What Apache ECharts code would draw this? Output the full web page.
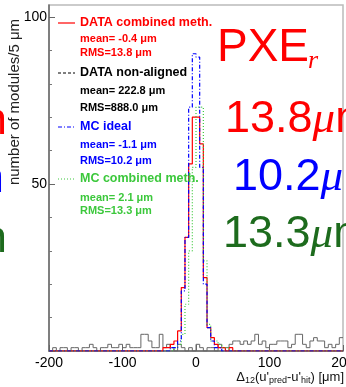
<!DOCTYPE html>
<html>
<head>
<meta charset="utf-8">
<script src="https://cdn.jsdelivr.net/npm/echarts@6/dist/echarts.min.js"></script>
<style>
  html, body { margin: 0; padding: 0; background: #fff; }
  #chart { width: 346px; height: 387px; }
</style>
</head>
<body>
<div id="chart"></div>
<script>
// Residual histograms, 5 um bins from -200 to 200 um
const binStart = -200;
const binWidth = 5;
const xTicks = [-200, -100, 0, 100, 200];
const yTickLabels = [50, 100];

// DATA combined method
const dataCombined = [
  0,0,0,0,0,0,0,0,0,0,
  0,0,0,0,0,0,0,0,0,0,
  0,0,0,0,0,0,0,0,0,0,
  0,1,1,2,3,6,19,34,56,70,
  70,62,22,7,4,2,1,1,0,1,
  0,0,0,0,0,0,0,0,0,0,
  0,0,0,0,0,0,0,0,0,0,
  0,0,0,0,0,0,0,0,0,0
];
// DATA non-aligned
const dataNonAligned = [
  0,1,0,1,1,0,1,1,0,1,
  1,2,1,0,1,1,2,1,1,2,
  1,2,1,1,1,5,5,3,1,1,
  5,1,2,1,0,2,1,0,1,0,
  2,1,0,1,1,0,2,1,1,2,
  3,3,2,3,2,3,5,2,3,1,
  2,2,3,3,3,1,2,5,5,2,
  1,3,4,3,3,1,2,1,2,4
];
// MC ideal geometry
const mcIdeal = [
  0,0,0,0,0,0,0,0,0,0,
  0,0,0,0,0,0,0,0,0,0,
  0,0,0,0,0,0,0,0,0,0,
  0,0,0,1,1,3,18,34,73,89,
  88,55,20,7,3,1,1,0,0,0,
  0,0,0,0,0,0,0,0,0,0,
  0,0,0,0,0,0,0,0,0,0,
  0,0,0,0,0,0,0,0,0,0
];
// MC combined method
const mcCombined = [
  0,0,0,0,0,0,0,0,0,0,
  0,0,0,0,0,0,0,0,0,0,
  0,0,0,0,0,0,0,0,0,0,
  0,0,0,0,1,2,5,14,30,55,
  73,73,27,8,3,3,2,1,1,0,
  0,0,0,0,0,0,0,0,0,0,
  0,0,0,0,0,0,0,0,0,0,
  0,0,0,0,0,0,0,0,0,0
];

const RED = '#ff0000', BLUE = '#0000ff', LGREEN = '#3cc83c', DGREEN = '#1d6b1d';

// histogram outline: one point per bin low edge, plus the closing upper edge
function steps(counts) {
  const pts = counts.map((c, i) => [binStart + i * binWidth, c]);
  pts.push([binStart + counts.length * binWidth, counts[counts.length - 1]]);
  return pts;
}
function hist(name, counts, color, dash, width) {
  return {
    name, type: 'line', step: 'end', data: steps(counts),
    showSymbol: false, symbol: 'none', silent: true, animation: false,
    lineStyle: { color, width, type: dash }
  };
}

const legendRows = [
  { y: 23, text: 'DATA combined meth.', color: RED, dash: 'solid', head: true },
  { y: 39, text: 'mean= -0.4 μm', color: RED },
  { y: 53, text: 'RMS=13.8 μm', color: RED },
  { y: 73, text: 'DATA non-aligned', color: '#000', dash: [3, 2], head: true },
  { y: 91, text: 'mean= 222.8 μm', color: '#000' },
  { y: 108, text: 'RMS=888.0 μm', color: '#000' },
  { y: 127, text: 'MC ideal', color: BLUE, dash: [4, 2, 1, 2], head: true },
  { y: 145, text: 'mean= -1.1 μm', color: BLUE },
  { y: 161, text: 'RMS=10.2 μm', color: BLUE },
  { y: 179, text: 'MC combined meth.', color: LGREEN, dash: [1, 2], head: true },
  { y: 198, text: 'mean= 2.1 μm', color: LGREEN },
  { y: 211, text: 'RMS=13.3 μm', color: LGREEN }
];

const graphics = [];
legendRows.forEach(r => {
  if (r.head) {
    graphics.push({ type: 'line', z: 50, shape: { x1: 58, y1: r.y, x2: 75, y2: r.y },
      style: { stroke: r.color, lineWidth: 1.2, lineDash: r.dash === 'solid' ? null : r.dash } });
  }
  graphics.push({ type: 'text', z: 50, x: 80, y: r.y,
    style: { text: r.text, fill: r.color, textAlign: 'left', textVerticalAlign: 'middle',
      font: (r.head ? 'bold 12.5px' : 'bold 11px') + ' "Liberation Sans", Arial, sans-serif' } });
});

// y axis title
graphics.push({ type: 'text', z: 50, x: 15, y: 102, rotation: Math.PI / 2,
  style: { text: 'number of modules/5 μm', fill: '#222', textAlign: 'center', textVerticalAlign: 'middle',
    font: '15px "Liberation Sans", Arial, sans-serif' } });

// x axis title
graphics.push({ type: 'text', z: 50, x: 344, y: 377,
  style: { text: "{m|Δ}{s|12}{m|(u'}{s|pred}{m|-u'}{s|hit}{m|) [μm]}", textAlign: 'right', textVerticalAlign: 'middle',
    rich: {
      m: { fontSize: 13, fontFamily: '"Liberation Sans", Arial, sans-serif', fill: '#111', lineHeight: 15 },
      s: { fontSize: 9, fontFamily: '"Liberation Sans", Arial, sans-serif', fill: '#111', padding: [7, 0, 0, 0], lineHeight: 15 }
    } } });

// large annotations on the right
const bigFont = '"Liberation Sans", Arial, sans-serif';
const mathFont = '"Liberation Serif", "DejaVu Serif", serif';
graphics.push({ type: 'text', z: 60, x: 217, y: 48,
  style: { text: 'PXE', fill: RED, textAlign: 'left', textVerticalAlign: 'middle', font: '46px ' + bigFont } });
graphics.push({ type: 'text', z: 60, x: 308, y: 61,
  style: { text: 'r', fill: RED, textAlign: 'left', textVerticalAlign: 'middle', font: 'italic 26px ' + mathFont } });

function bigValue(x, y, val, color) {
  return { type: 'text', z: 60, x, y,
    style: { text: '{a|' + val + '}{b|μ}{a|m}', textAlign: 'left', textVerticalAlign: 'middle',
      rich: {
        a: { fontSize: 45, fontFamily: bigFont, fill: color, lineHeight: 50 },
        b: { fontSize: 45, fontFamily: mathFont, fontStyle: 'italic', fill: color, lineHeight: 50 }
      } } };
}
graphics.push(bigValue(225, 120, '13.8', RED));
graphics.push(bigValue(233, 178, '10.2', BLUE));
graphics.push(bigValue(223, 235, '13.3', DGREEN));

// trailing glyphs from the neighbouring column
[[7, 122, RED], [4, 180, BLUE], [7, 240, DGREEN]].forEach(([x, y, c]) => {
  graphics.push({ type: 'text', z: 60, x, y,
    style: { text: 'm', fill: c, textAlign: 'right', textVerticalAlign: 'middle', font: '45px ' + bigFont } });
});

const chart = echarts.init(document.getElementById('chart'), null, { renderer: 'canvas' });
chart.setOption({
  animation: false,
  backgroundColor: '#fff',
  grid: { left: 49, right: 3, top: 5, bottom: 36, outerBoundsMode: 'none', containLabel: false,
    show: true, borderColor: '#bbbbbb', borderWidth: 1.5 },
  xAxis: {
    type: 'value', min: -200, max: 200, interval: 100,
    axisLine: { show: true, onZero: false, lineStyle: { color: '#666', width: 1.5 } },
    axisTick: { show: true, inside: true, length: 6, lineStyle: { color: '#666' } },
    minorTick: { show: false },
    splitLine: { show: false },
    axisLabel: { show: true, margin: 5, color: '#000', fontSize: 14, fontFamily: '"Liberation Sans", Arial, sans-serif',
      customValues: xTicks }
  },
  yAxis: {
    type: 'value', min: 0, max: 103.6, interval: 50,
    axisLine: { show: true, onZero: false, lineStyle: { color: '#666', width: 1.5 } },
    axisTick: { show: true, inside: true, length: 6, lineStyle: { color: '#666' }, customValues: [0, 50, 100] },
    minorTick: { show: true, splitNumber: 5, length: 3, lineStyle: { color: '#777' } },
    splitLine: { show: false },
    axisLabel: { show: true, margin: 2, color: '#000', fontSize: 14, fontFamily: '"Liberation Sans", Arial, sans-serif',
      customValues: yTickLabels }
  },
  series: [
    hist('DATA non-aligned', dataNonAligned, '#666', 'solid', 1),
    hist('DATA combined meth.', dataCombined, RED, 'solid', 1.2),
    hist('MC combined meth.', mcCombined, LGREEN, [1, 2], 1.2),
    hist('MC ideal', mcIdeal, BLUE, [4, 2, 1, 2], 1.2)
  ],
  graphic: graphics
});
</script>
</body>
</html>
